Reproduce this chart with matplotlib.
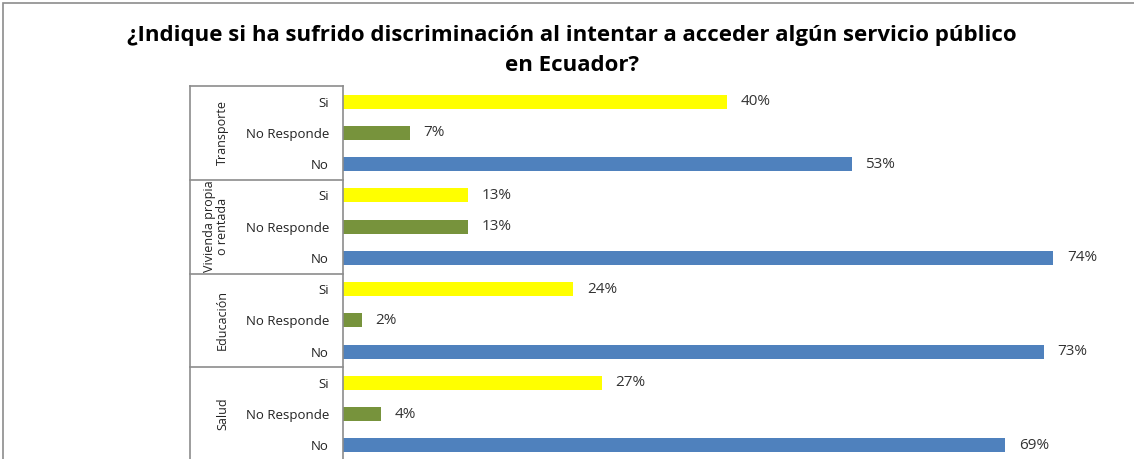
import matplotlib.pyplot as plt
from matplotlib.patches import Rectangle
import matplotlib.transforms as mtransforms

plt.rcParams['font.family'] = ['Open Sans', 'DejaVu Sans']

categories = ["Transporte", "Vivienda propia\no rentada", "Educación", "Salud"]
responses = ["Si", "No Responde", "No"]
si = [40, 13, 24, 27]
no_responde = [7, 13, 2, 4]
no = [53, 74, 73, 69]

colors = {"Si": "#FFFF00", "No Responde": "#77933C", "No": "#4F81BD"}
series = {"Si": si, "No Responde": no_responde, "No": no}

W, H = 1134, 459
fig = plt.figure(figsize=(W / 100, H / 100), dpi=100)

# outer chart frame (cut off on right and bottom like the screenshot)
fig.patches.append(Rectangle((3 / W, -0.1), 1.2, (H - 3) / H + 0.1,
                             transform=fig.transFigure, fill=False,
                             edgecolor="#8c8c8c", linewidth=1.2))

ax_left, ax_top, ax_bot, ax_right = 343, 86, 461, 1111
ax = fig.add_axes([ax_left / W, (H - ax_bot) / H,
                   (ax_right - ax_left) / W, (ax_bot - ax_top) / H])

labels = []
ypos = 0
for gi, cat in enumerate(categories):
    for r in responses:
        v = series[r][gi]
        ax.barh(ypos, v, height=0.45, color=colors[r])
        ax.text(v + 1.4, ypos, f"{v}%", va="center", ha="left",
                fontsize=11, color="#333333")
        labels.append(r)
        ypos += 1

ax.set_ylim(len(labels) - 0.5, -0.5)
ax.set_xlim(0, 80)
ax.set_yticks(range(len(labels)))
ax.set_yticklabels(labels, fontsize=9.5, color="#222222")
ax.tick_params(axis="y", length=0, pad=10)
ax.set_xticks([])
for s in ["top", "right", "bottom"]:
    ax.spines[s].set_visible(False)
ax.spines["left"].set_color("#8c8c8c")
ax.spines["left"].set_linewidth(1.2)

# category box on the left
box_x0 = 190 / W
trans = mtransforms.blended_transform_factory(fig.transFigure, ax.transData)
n = len(responses)
for gi in range(len(categories) + 1):
    yb = gi * n - 0.5
    ax.plot([box_x0, ax_left / W], [yb, yb], transform=trans,
            color="#8c8c8c", linewidth=1.2, clip_on=False)
ax.plot([box_x0, box_x0], [-0.5, len(labels) + 1], transform=trans,
        color="#8c8c8c", linewidth=1.2, clip_on=False)
for gi, cat in enumerate(categories):
    ax.text(229 / W, gi * n + 1, cat, transform=trans, rotation=90,
            ha="right", va="center", fontsize=9, color="#222222",
            linespacing=1.05, multialignment="center")

fig.text(572 / W, 1 - 36 / H,
         "¿Indique si ha sufrido discriminación al intentar a acceder algún servicio público",
         ha="center", va="center", fontsize=16, fontweight="bold")
fig.text(572 / W, 1 - 66 / H, "en Ecuador?", ha="center", va="center",
         fontsize=16, fontweight="bold")

fig.savefig("out.png", dpi=100)
